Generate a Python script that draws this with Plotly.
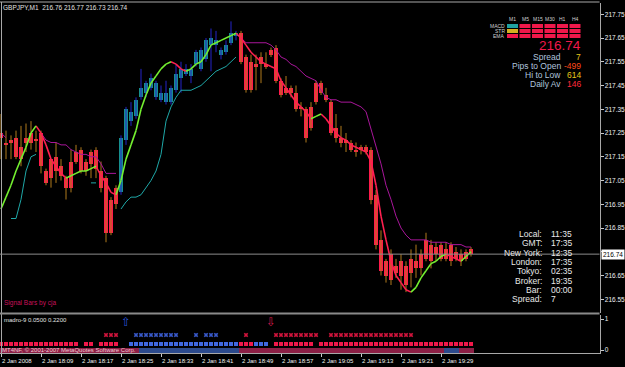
import plotly.graph_objects as go

W, H = 625, 367
FONT = "Liberation Sans, Arial, sans-serif"

# ---------------- data (GBPJPY M1, 2 Jan 2008 18:01 .. 19:35) ----------------
opens = [217.25, 217.21, 217.22, 217.23, 217.19, 217.23, 217.25, 217.22, 217.25, 217.09,
         217.14, 217.15, 217.11, 217.06, 217.13, 217.17, 217.18, 217.13, 217.17, 217.18,
         217.09, 217.06, 216.97, 217.02, 217.00, 217.22, 217.30, 217.32, 217.40, 217.42,
         217.44, 217.46, 217.42, 217.42, 217.38, 217.43, 217.48, 217.50, 217.52, 217.54,
         217.52, 217.56, 217.62, 217.64, 217.60, 217.59, 217.63, 217.66, 217.67, 217.57,
         217.55, 217.54, 217.57, 217.54, 217.60, 217.61, 217.47, 217.44, 217.44, 217.42,
         217.36, 217.35, 217.36, 217.46, 217.46, 217.41, 217.38, 217.27, 217.23, 217.22,
         217.21, 217.18, 217.19, 217.19, 217.18, 216.99, 216.80, 216.71, 216.74, 216.69,
         216.71, 216.69, 216.72, 216.71, 216.74, 216.80, 216.78, 216.77, 216.78, 216.76,
         216.78, 216.75, 216.74, 216.75, 216.76]
highs = [217.33, 217.26, 217.24, 217.26, 217.28, 217.29, 217.30, 217.26, 217.26, 217.10,
         217.14, 217.21, 217.14, 217.07, 217.18, 217.20, 217.19, 217.14, 217.18, 217.19,
         217.13, 217.07, 216.98, 217.03, 217.24, 217.36, 217.38, 217.40, 217.52, 217.47,
         217.50, 217.47, 217.45, 217.47, 217.45, 217.54, 217.55, 217.54, 217.54, 217.60,
         217.61, 217.65, 217.69, 217.68, 217.61, 217.64, 217.72, 217.68, 217.68, 217.58,
         217.58, 217.58, 217.59, 217.59, 217.61, 217.62, 217.48, 217.49, 217.45, 217.45,
         217.38, 217.36, 217.38, 217.47, 217.47, 217.44, 217.39, 217.33, 217.28, 217.25,
         217.22, 217.21, 217.20, 217.20, 217.19, 217.01, 216.84, 216.72, 216.76, 216.72,
         216.74, 216.71, 216.76, 216.78, 216.76, 216.83, 216.80, 216.79, 216.79, 216.79,
         216.79, 216.77, 216.76, 216.76, 216.77]
lows = [217.14, 217.14, 217.14, 217.14, 217.11, 217.17, 217.18, 217.17, 217.08, 217.03,
        217.02, 217.04, 217.05, 216.97, 217.00, 217.12, 217.08, 217.07, 217.06, 217.06,
        217.00, 216.79, 216.82, 216.93, 216.99, 217.20, 217.28, 217.31, 217.39, 217.40,
        217.43, 217.39, 217.38, 217.37, 217.37, 217.42, 217.42, 217.49, 217.46, 217.53,
        217.51, 217.55, 217.51, 217.59, 217.56, 217.58, 217.62, 217.64, 217.54, 217.42,
        217.42, 217.43, 217.46, 217.52, 217.57, 217.46, 217.40, 217.41, 217.40, 217.34,
        217.32, 217.21, 217.26, 217.37, 217.41, 217.38, 217.24, 217.21, 217.19, 217.17,
        217.17, 217.15, 217.16, 217.16, 216.95, 216.76, 216.65, 216.62, 216.61, 216.64,
        216.59, 216.58, 216.60, 216.64, 216.65, 216.71, 216.68, 216.71, 216.71, 216.71,
        216.69, 216.71, 216.69, 216.71, 216.73]
closes = [217.23, 217.20, 217.21, 217.15, 217.14, 217.21, 217.21, 217.22, 217.11, 217.04,
          217.06, 217.09, 217.07, 217.02, 217.02, 217.13, 217.09, 217.09, 217.12, 217.10,
          217.02, 216.83, 216.83, 216.95, 217.23, 217.35, 217.34, 217.39, 217.44, 217.46,
          217.48, 217.40, 217.39, 217.38, 217.44, 217.50, 217.52, 217.52, 217.49, 217.59,
          217.60, 217.64, 217.65, 217.62, 217.58, 217.62, 217.67, 217.67, 217.55, 217.43,
          217.43, 217.53, 217.54, 217.53, 217.58, 217.47, 217.41, 217.42, 217.42, 217.35,
          217.35, 217.23, 217.27, 217.38, 217.42, 217.39, 217.25, 217.23, 217.21, 217.21,
          217.18, 217.17, 217.18, 217.17, 216.97, 216.78, 216.67, 216.65, 216.63, 216.66,
          216.65, 216.61, 216.66, 216.68, 216.68, 216.72, 216.71, 216.74, 216.72, 216.72,
          216.71, 216.72, 216.71, 216.72, 216.74]

# candle colour state: u = up-trend (teal), d = down-trend (red)
trend = ("ddddd" "ddddd" "ddddd" "ddddd" "dddd"
         "uuuuu" "uuuuu" "uuuuu" "uuuuu" "uuuu"
         "ddddd" "ddddd" "ddddd" "ddddd" "ddddd" "ddddd" "ddddd" "ddddd" "ddddd" "dd")

fast_ma = [216.93, 216.98, 217.03, 217.09, 217.14, 217.19, 217.25, 217.28, 217.25, 217.20,
           217.14, 217.11, 217.08, 217.06, 217.07, 217.08, 217.09, 217.09, 217.10, 217.11,
           217.07, 217.04, 217.00, 216.99, 217.05, 217.14, 217.20, 217.26, 217.35, 217.41,
           217.46, 217.49, 217.52, 217.54, 217.55, 217.54, 217.52, 217.51, 217.52, 217.54,
           217.55, 217.58, 217.62, 217.63, 217.64, 217.65, 217.66, 217.67, 217.65, 217.62,
           217.59, 217.57, 217.55, 217.54, 217.53, 217.52, 217.47, 217.44, 217.41, 217.38,
           217.36, 217.34, 217.31, 217.32, 217.33, 217.31, 217.28, 217.25, 217.23, 217.22,
           217.20, 217.19, 217.18, 217.17, 217.13, 217.03, 216.90, 216.80, 216.71, 216.65,
           216.62, 216.59, 216.58, 216.60, 216.64, 216.67, 216.70, 216.71, 216.73, 216.74,
           216.73, 216.72, 216.71, 216.73, 216.75]

N = None
lower_band = [N, N, 216.89, 216.89, 216.97, 217.09, 217.15, 217.16, N, N,
              N, N, N, N, N, N, N, N, 217.04, 217.04,
              N, N, N, N, 216.93, 216.96, 216.98, 216.98, 216.99, 217.02,
              217.05, 217.09, 217.16, 217.30, 217.36, 217.40, 217.43, 217.43, 217.43, 217.44,
              217.45, 217.47, 217.49, 217.51, 217.52, 217.53, 217.55, 217.57, N, N,
              N, N, N, N, N, N, N, N, N, N,
              N, N, N, N, N, N, N, N, N, N,
              N, N, N, N, N, N, N, N, N, N,
              N, N, N, N, N, N, N, N, N, N,
              N, N, N, N, N]
upper_band = [217.25, 217.23, N, N, N, N, N, N, 217.25, 217.22,
              217.21, 217.21, 217.20, 217.20, 217.18, 217.17, 217.16, 217.16, 217.15, 217.15,
              217.12, 217.08, 217.08, 217.08, N, N, N, N, N, N,
              N, N, N, N, N, N, N, N, N, N,
              N, N, N, N, N, N, N, N, 217.65, 217.63,
              217.63, 217.63, 217.63, 217.63, 217.62, 217.60, 217.57, 217.56, 217.54, 217.53,
              217.51, 217.49, 217.48, 217.47, 217.43, 217.40, 217.39, 217.39, 217.38, 217.38,
              217.38, 217.37, 217.36, 217.34, 217.27, 217.20, 217.12, 217.03, 216.97, 216.90,
              216.85, 216.82, 216.80, 216.80, 216.80, 216.80, 216.79, 216.79, 216.79, 216.79,
              216.78, 216.78, 216.78, 216.77, 216.77]

# indicator rows: r = sell, b = buy, . = none
cross_row = ("....." "....." "....." "....." "." "rrr" "..." "bbbbbbbbb" "..." "b" "." "bbb"
             "....." "r" "....." "rrrrrrrrr" ".." "rrrrr" "rrrrr" "rrrrr" "rr" "....." "....." "..")
square_row = ("rrrrr" "rrrrr" "rrrrr" "r" "." "rr" "." "rrrr" ".." "bbbbb" "bbbbb" "bbbbb" "bbbbb" "bb"
              "rrr" "bbb" "." "rrrrrrrr" "." "rrrrr" "rrrrr" "rrrrr" "rrrrr" "rrrrr" "rrrrr" "r")
strip_row = ("rrrrr" "rrrrr" "rrrrr" "rrrrr" "rrrrr" "rrr" "bbbbb" "bbbbb" "bbbbb" "bbbbb"
             "rrrrr" "rrrrr" "rrrrr" "rrrrr" "rrrrr" "rrrrr" "rrrrr" "rrrrr" "r" "bbb" "rrr")
arrow_up_bar = 25
arrow_down_bar = 54

time_label_bars = [0, 8, 16, 24, 32, 40, 48, 56, 64, 72, 80, 88]
time_labels = ["2 Jan 2008", "2 Jan 18:09", "2 Jan 18:17", "2 Jan 18:25", "2 Jan 18:33",
               "2 Jan 18:41", "2 Jan 18:49", "2 Jan 18:57", "2 Jan 19:05", "2 Jan 19:13",
               "2 Jan 19:21", "2 Jan 19:29"]
price_ticks = [217.75, 217.65, 217.55, 217.45, 217.35, 217.25, 217.15, 217.05,
               216.95, 216.85, 216.75, 216.65, 216.55]
# the 216.75 label is hidden under the current-price box in the original
price_tick_text = ["217.75", "217.65", "217.55", "217.45", "217.35", "217.25", "217.15",
                   "217.05", "216.95", "216.85", "", "216.65", "216.55"]

timeframes = ["M1", "M5", "M15", "M30", "H1", "H4"]
mtf_rows = ["MACD", "STR", "EMA"]
mtf_state = [["up", "dn", "dn", "dn", "dn", "dn"],
             ["flat", "dn", "dn", "dn", "dn", "dn"],
             ["dn", "dn", "dn", "dn", "dn", "dn"]]

info_labels = ["Spread", "Pips to Open", "Hi to Low", "Daily Av"]
info_values = ["7", "-499", "614", "146"]
info_colors = ["#e6c619", "#ff4a1a", "#e6c619", "#ff2a3a"]

clock_labels = ["Local:", "GMT:", "New York:", "London:", "Tokyo:", "Broker:", "Bar:", "Spread:"]
clock_values = ["11:35", "17:35", "12:35", "17:35", "02:35", "19:35", "00:00", "7"]

# ---------------- geometry helpers ----------------
n = len(closes)
bars = list(range(n))
XR = [-0.2, 119.7]
XD = [0, 599.5 / W]
Y1D = [(H - 313) / H, (H - 3) / H]
Y1R = [216.4921, 217.7974]
Y2D = [(H - 353) / H, (H - 315) / H]
Y2R = [-0.0968, 1.129]


def pxp(x, y):
    return x / W, 1 - y / H


fig = go.Figure()

UP_BODY, UP_WICK = "#178f8f", "#2424c8"
DN_BODY, DN_WICK = "#ff1a4b", "#b07a1c"

# wicks
for code, col in (("u", UP_WICK), ("d", DN_WICK)):
    wx, wy = [], []
    for i in bars:
        if trend[i] == code:
            wx += [i, i, None]
            wy += [lows[i], highs[i], None]
    fig.add_trace(go.Scatter(x=wx, y=wy, mode="lines", line=dict(color=col, width=1),
                             hoverinfo="skip", showlegend=False, xaxis="x", yaxis="y"))
# bodies
for code, col in (("u", UP_BODY), ("d", DN_BODY)):
    idx = [i for i in bars if trend[i] == code]
    base = [min(opens[i], closes[i]) for i in idx]
    hgt = [max(abs(opens[i] - closes[i]), 0.004) for i in idx]
    fig.add_trace(go.Bar(x=idx, y=hgt, base=base, width=0.65,
                         marker=dict(color=col, line=dict(width=0)),
                         hoverinfo="skip", showlegend=False, xaxis="x", yaxis="y"))

# bands
fig.add_trace(go.Scatter(x=bars, y=lower_band, mode="lines", connectgaps=False,
                         line=dict(color="#1fa8a8", width=1), hoverinfo="skip",
                         showlegend=False, xaxis="x", yaxis="y"))
fig.add_trace(go.Scatter(x=bars, y=upper_band, mode="lines", connectgaps=False,
                         line=dict(color="#a8169a", width=1), hoverinfo="skip",
                         showlegend=False, xaxis="x", yaxis="y"))

# fast MA, coloured by slope
gx, gy, rx, ry = [], [], [], []
state = "g"
for i in range(n - 1):
    d = fast_ma[i + 1] - fast_ma[i]
    if d > 0:
        state = "g"
    elif d < 0:
        state = "r"
    if state == "g":
        gx += [i, i + 1, None]; gy += [fast_ma[i], fast_ma[i + 1], None]
    else:
        rx += [i, i + 1, None]; ry += [fast_ma[i], fast_ma[i + 1], None]
fig.add_trace(go.Scatter(x=rx, y=ry, mode="lines", line=dict(color="#ff2050", width=1.6),
                         hoverinfo="skip", showlegend=False, xaxis="x", yaxis="y"))
fig.add_trace(go.Scatter(x=gx, y=gy, mode="lines", line=dict(color="#74f030", width=1.6),
                         hoverinfo="skip", showlegend=False, xaxis="x", yaxis="y"))

# ---------------- indicator panel ----------------
RED_SIG, BLUE_SIG = "#f0184a", "#4068e0"
for code, col in (("r", "#8c1f45"), ("b", "#2c4a8c")):
    idx = [i for i in bars if strip_row[i] == code]
    fig.add_trace(go.Bar(x=idx, y=[0.165] * len(idx), base=[-0.1] * len(idx), width=1.0,
                         marker=dict(color=col, line=dict(width=0)), hoverinfo="skip",
                         showlegend=False, xaxis="x2", yaxis="y2"))
for code, col in (("r", "#d0143c"), ("b", "#3858c8")):
    idx = [i for i in bars if cross_row[i] == code]
    fig.add_trace(go.Scatter(x=idx, y=[0.484] * len(idx), mode="markers",
                             marker=dict(symbol="x", size=4, color=col, line=dict(width=0)),
                             hoverinfo="skip", showlegend=False, xaxis="x2", yaxis="y2"))
for code, col in (("r", RED_SIG), ("b", BLUE_SIG)):
    idx = [i for i in bars if square_row[i] == code]
    fig.add_trace(go.Scatter(x=idx, y=[0.194] * len(idx), mode="markers",
                             marker=dict(symbol="square", size=4, color=col, line=dict(width=0)),
                             hoverinfo="skip", showlegend=False, xaxis="x2", yaxis="y2"))

fig.add_annotation(x=arrow_up_bar, y=0.9, xref="x2", yref="y2", text="⇧", showarrow=False,
                   font=dict(size=12, color="#2850d0", family="DejaVu Sans"))
fig.add_annotation(x=arrow_down_bar, y=0.9, xref="x2", yref="y2", text="⇩", showarrow=False,
                   font=dict(size=12, color="#d01848", family="DejaVu Sans"))


def txt(x, y, s, size, color, xanchor="left", family=FONT):
    ax, ay = pxp(x, y)
    fig.add_annotation(x=ax, y=ay, xref="paper", yref="paper", text=s, showarrow=False,
                       xanchor=xanchor, yanchor="middle", borderpad=0, borderwidth=0,
                       font=dict(size=size, color=color, family=family))


# time-axis labels, left aligned at their ticks
for b, lab in zip(time_label_bars, time_labels):
    fig.add_annotation(x=b, y=1 - 360.5 / H, xref="x2", yref="paper", text=lab, showarrow=False,
                       xanchor="left", yanchor="middle", xshift=1, borderpad=0, borderwidth=0,
                       font=dict(size=6, color="#f0f0f0", family=FONT))

txt(3, 8, "GBPJPY,M1  %.2f %.2f %.2f %.2f" % (opens[-1], highs[-1], lows[-1], closes[-1]),
    6.5, "#e0e0e0")
txt(4, 303, "Signal Bars by cja", 6.5, "#c8105a")
txt(4, 320, "madro-9 0.0500 0.2200", 6, "#e0e0e0")
txt(2, 350, "MT4NF, © 2001-2007 MetaQuotes Software Corp.", 6, "#f0c8d4")

# MTF grid
cell_x = [507, 519.5, 532, 544.5, 557, 569.5]
row_y = [24, 29, 34]
state_col = {"up": "#1fa0a0", "flat": "#d4b020", "dn": "#f0184a"}
shapes = []
for r, lab in enumerate(mtf_rows):
    txt(505, row_y[r] + 2, lab, 5, "#d0d0d0", xanchor="right")
    for c in range(len(timeframes)):
        x0, y0 = pxp(cell_x[c], row_y[r])
        x1, y1 = pxp(cell_x[c] + 11, row_y[r] + 4)
        shapes.append(dict(type="rect", xref="paper", yref="paper", x0=x0, x1=x1, y0=y1, y1=y0,
                           fillcolor=state_col[mtf_state[r][c]], line=dict(width=0)))
for c, tfn in enumerate(timeframes):
    txt(cell_x[c] + 5.5, 19.5, tfn, 5, "#d0d0d0", xanchor="center")

txt(581, 46, "%.2f" % closes[-1], 13.5, "#f0184a", xanchor="right")
for k, (lab, val, col) in enumerate(zip(info_labels, info_values, info_colors)):
    y = 56.5 + k * 9.2
    txt(561, y, lab, 8.5, "#b0c4de", xanchor="right")
    txt(581, y, val, 8.5, col, xanchor="right")

for k, (lab, val) in enumerate(zip(clock_labels, clock_values)):
    y = 234 + k * 9.3
    txt(542, y, lab, 8.5, "#e8e8e8", xanchor="right")
    txt(551, y, val, 8.5, "#e8e8e8", xanchor="left")

# current price box on the axis
fig.add_annotation(x=600.5 / W, y=closes[-1], xref="paper", yref="y", text="%.2f" % closes[-1],
                   showarrow=False, xanchor="left", yanchor="middle", bgcolor="#ffffff",
                   borderpad=1, font=dict(size=6.5, color="#000000", family=FONT))

# frame + price line
GREY = "#a8a8a8"
shapes += [
    dict(type="line", xref="paper", yref="paper", x0=0, x1=XD[1], y0=1 - 2 / H, y1=1 - 2 / H,
         line=dict(color=GREY, width=1)),
    dict(type="line", xref="paper", yref="paper", x0=1.5 / W, x1=1.5 / W, y0=Y2D[0], y1=1 - 2 / H,
         line=dict(color=GREY, width=1)),
    dict(type="line", xref="paper", yref="paper", x0=0, x1=XD[1], y0=1 - 313.5 / H, y1=1 - 313.5 / H,
         line=dict(color="#8a8a8a", width=2)),
    dict(type="line", xref="paper", yref="y", x0=0, x1=XD[1], y0=closes[-1], y1=closes[-1],
         line=dict(color="#8c8c8c", width=1)),
]

axis_common = dict(showgrid=False, zeroline=False, fixedrange=True, tickangle=0)
fig.update_layout(
    width=W, height=H, margin=dict(l=0, r=0, t=0, b=0),
    paper_bgcolor="#000000", plot_bgcolor="#000000",
    barmode="overlay", bargap=0, showlegend=False, shapes=shapes,
    xaxis=dict(domain=XD, range=XR, anchor="y", showticklabels=False, ticks="", showline=False,
               **axis_common),
    yaxis=dict(domain=Y1D, range=Y1R, anchor="x", side="right", tickvals=price_ticks,
               ticktext=price_tick_text, ticks="outside", ticklen=3, tickcolor="#c8c8c8",
               tickfont=dict(size=6.5, color="#f0f0f0", family=FONT), showline=True,
               linecolor=GREY, linewidth=1, automargin=False, **axis_common),
    xaxis2=dict(domain=XD, range=XR, anchor="y2", matches="x", tickvals=time_label_bars,
                showticklabels=False, ticks="outside", ticklen=3, tickcolor="#c8c8c8",
                showline=True, linecolor=GREY, linewidth=1, automargin=False, **axis_common),
    yaxis2=dict(domain=Y2D, range=Y2R, anchor="x2", side="right", tickvals=[0, 1],
                ticktext=["0", "1"], ticks="outside", ticklen=3, tickcolor="#c8c8c8",
                tickfont=dict(size=6.5, color="#f0f0f0", family=FONT), showline=True,
                linecolor=GREY, linewidth=1, automargin=False, **axis_common),
)

fig.write_html("out.html")
